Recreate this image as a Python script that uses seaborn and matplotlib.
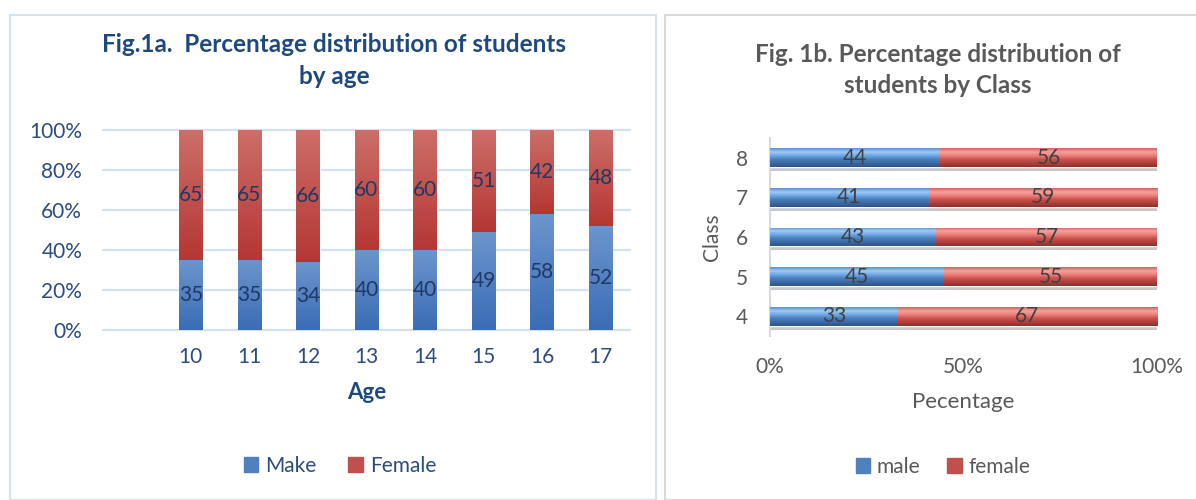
import numpy as np
import pandas as pd
import matplotlib
matplotlib.use('Agg')
import matplotlib.pyplot as plt
import matplotlib.patheffects as pe
from matplotlib.colors import LinearSegmentedColormap
from matplotlib.patches import Patch, Rectangle
import seaborn as sns

# Fig 1a: students by age (percent)
ages = ['10', '11', '12', '13', '14', '15', '16', '17']
age_male = [35, 35, 34, 40, 40, 49, 58, 52]
age_female = [65, 65, 66, 60, 60, 51, 42, 48]

# Fig 1b: students by class (percent)
classes = ['4', '5', '6', '7', '8']
cls_male = [33, 45, 43, 41, 44]
cls_female = [67, 55, 57, 59, 56]

sns.set_theme(style='white')
plt.rcParams['font.family'] = ['Lato', 'DejaVu Sans']

W, H = 1196, 500
fig = plt.figure(figsize=(W / 100, H / 100), dpi=100)


def fx(px):
    return px / W


def fy(py):
    return 1 - py / H


def shade(ax, bars, stops, inverted=False):
    # paint a vertical colour gradient inside every bar
    cmap = LinearSegmentedColormap.from_list('g', stops)
    grad = np.linspace(0, 1, 64).reshape(-1, 1)
    for p in bars:
        x0, y0 = p.get_x(), p.get_y()
        x1, y1 = x0 + p.get_width(), y0 + p.get_height()
        ext = (x0, x1, y1, y0) if inverted else (x0, x1, y0, y1)
        im = ax.imshow(grad, cmap=cmap, extent=ext, origin='upper',
                       aspect='auto', interpolation='bilinear', zorder=p.get_zorder() + 0.1)
        im.set_clip_path(p)


# panel frames
fig.add_artist(Rectangle((fx(10), 0), fx(646), fy(15), transform=fig.transFigure,
                         fill=False, edgecolor='#D5E1EE', lw=1.5))
fig.add_artist(Rectangle((fx(665), 0), fx(560), fy(15), transform=fig.transFigure,
                         fill=False, edgecolor='#D9D9D9', lw=1.5))

# ---------------- left panel ----------------
navy = '#1F497D'
axl = fig.add_axes([fx(103), fy(330), fx(630) - fx(103), fy(130) - fy(330)])
df_age = pd.DataFrame({'Age': ages, 'Male': age_male, 'Female': age_female})
sns.barplot(data=df_age, x='Age', y='Male', color='#4F81BD', saturation=1,
            width=0.4, errorbar=None, ax=axl, zorder=3)
sns.barplot(data=df_age, x='Age', y='Female', bottom=df_age['Male'].values,
            color='#C0504D', saturation=1, width=0.4, errorbar=None, ax=axl, zorder=3)
c_m, c_f = axl.containers[0], axl.containers[1]
shade(axl, c_m, ['#6C95CD', '#3A6DB5'])
shade(axl, c_f, ['#CC6E69', '#B53733'])
axl.bar_label(c_m, fmt='%d', label_type='center', color='#1F3864', fontsize=15, zorder=5)
axl.bar_label(c_f, fmt='%d', label_type='center', color='#1F3864', fontsize=15, zorder=5)

axl.set_xlim(-1.5, 7.5)
axl.set_ylim(0, 100)
axl.set_yticks([0, 20, 40, 60, 80, 100])
axl.set_yticklabels([f'{v}%' for v in [0, 20, 40, 60, 80, 100]])
for v in [0, 20, 40, 60, 80, 100]:
    axl.axhline(v, color='#D3E0F0', lw=1.6, zorder=1, clip_on=False)
for s in axl.spines.values():
    s.set_visible(False)
axl.tick_params(axis='y', length=0, pad=15, labelsize=15, labelcolor='#2B4C7E')
axl.tick_params(axis='x', length=0, pad=12, labelsize=15, labelcolor='#2B4C7E')
axl.set_ylabel('')
axl.set_xlabel('Age', fontsize=16, fontweight='bold', color=navy, labelpad=11)

fig.text(fx(334), fy(45), 'Fig.1a.  Percentage distribution of students',
         ha='center', va='center', fontsize=17.5, fontweight='bold', color=navy)
fig.text(fx(334), fy(76), 'by age', ha='center', va='center',
         fontsize=17.5, fontweight='bold', color=navy)

fig.legend(handles=[Patch(color='#4F81BD'), Patch(color='#C0504D')],
           labels=['Make', 'Female'], loc='center', bbox_to_anchor=(fx(340), fy(466)),
           ncol=2, frameon=False, fontsize=15, labelcolor='#2B4C7E',
           handlelength=0.7, handleheight=0.7, handletextpad=0.35, columnspacing=1.5)

# ---------------- right panel ----------------
grey = '#595959'
axr = fig.add_axes([fx(770), fy(336), fx(1157) - fx(770), fy(138) - fy(336)])
df_cls = pd.DataFrame({'Class': classes, 'male': cls_male, 'female': cls_female}).iloc[::-1]
order = list(df_cls['Class'])
shadow = [pe.SimplePatchShadow(offset=(1, -3), alpha=0.25), pe.Normal()]
sns.barplot(data=df_cls, y='Class', x='male', order=order, orient='h', color='#4F81BD',
            saturation=1, width=0.47, errorbar=None, ax=axr, zorder=3)
sns.barplot(data=df_cls, y='Class', x='female', order=order, orient='h',
            left=df_cls['male'].values, color='#C0504D', saturation=1, width=0.47,
            errorbar=None, ax=axr, zorder=3)
r_m, r_f = axr.containers[0], axr.containers[1]
for p in list(r_m) + list(r_f):
    p.set_path_effects(shadow)
shade(axr, r_m, ['#5A8FD0', '#9DCBF5', '#6FA6E3', '#4A7DBC', '#3C69A3', '#2D5386'], inverted=True)
shade(axr, r_f, ['#D06460', '#F7A19D', '#EC7F7A', '#C9524E', '#AE403C', '#8E2F2C'], inverted=True)
axr.bar_label(r_m, fmt='%d', label_type='center', color='#404040', fontsize=15, zorder=5)
axr.bar_label(r_f, fmt='%d', label_type='center', color='#404040', fontsize=15, zorder=5)

axr.set_xlim(0, 100)
axr.set_ylim(4.5, -0.5)
axr.set_xticks([0, 50, 100])
axr.set_xticklabels(['0%', '50%', '100%'])
for k, s in axr.spines.items():
    s.set_visible(k == 'left')
axr.spines['left'].set_color('#D9D9D9')
axr.spines['left'].set_linewidth(1.5)
axr.tick_params(axis='y', length=0, pad=16, labelsize=15, labelcolor=grey)
axr.tick_params(axis='x', length=0, pad=15, labelsize=15, labelcolor=grey)
axr.set_xlabel('Pecentage', fontsize=16, color=grey, labelpad=11)
axr.set_ylabel('Class', fontsize=15, color=grey, labelpad=10)

fig.text(fx(938), fy(55), 'Fig. 1b. Percentage distribution of',
         ha='center', va='center', fontsize=17.5, fontweight='bold', color=grey)
fig.text(fx(938), fy(86), 'students by Class', ha='center', va='center',
         fontsize=17.5, fontweight='bold', color=grey)

fig.legend(handles=[Patch(color='#4F81BD'), Patch(color='#C0504D')],
           labels=['male', 'female'], loc='center', bbox_to_anchor=(fx(943), fy(467)),
           ncol=2, frameon=False, fontsize=15, labelcolor=grey,
           handlelength=0.7, handleheight=0.7, handletextpad=0.3, columnspacing=1.3)

fig.savefig('out.png', dpi=100)
